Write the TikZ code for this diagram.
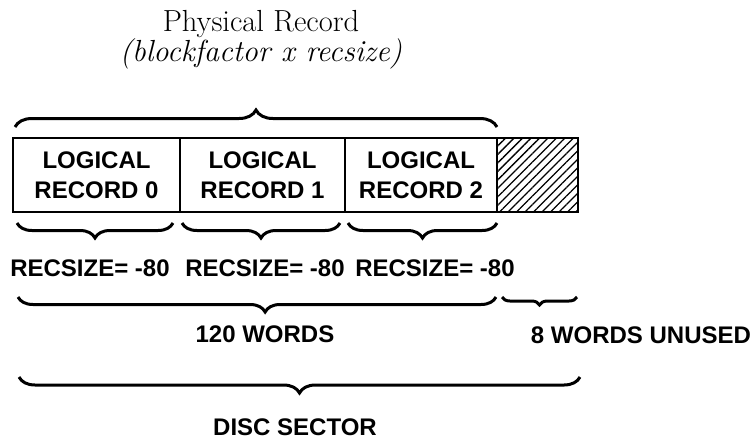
\documentclass[tikz,border=0pt]{standalone}
\usepackage{fontspec}
\usepackage{tikz}
\usetikzlibrary{positioning}
\usetikzlibrary{decorations.pathreplacing}
\usetikzlibrary{patterns.meta}
\newfontfamily\helvfont{Liberation Sans}

\begin{document}
\begin{tikzpicture}[x=1pt,y=-1pt,
    recbox/.style={draw,line width=1.8pt,outer sep=0pt,inner sep=0pt,minimum height=74pt,align=center,font=\helvfont\bfseries\fontsize{24}{30}\selectfont},
    brc/.style={decorate,decoration={brace,amplitude=#1},line width=3pt},
    lbl/.style={inner sep=1pt,font=\helvfont\bfseries\fontsize{24}{29}\selectfont}]
  \useasboundingbox (0,0) rectangle (754,440);
  % physical record
  \node (title) at (261,39.5) [align=center,font=\fontsize{30.5}{28}\selectfont] {Physical Record\\\textit{(blockfactor x recsize)}};
  \draw [brc=17pt] (15,127) -- (497,127);
  % logical records
  \node (rec0) at (13,138) [recbox,minimum width=167pt,anchor=north west] {LOGICAL\\RECORD 0};
  \node (rec1) [recbox,minimum width=165pt,right=0pt of rec0] {LOGICAL\\RECORD 1};
  \node (rec2) [recbox,minimum width=152pt,right=0pt of rec1] {LOGICAL\\RECORD 2};
  \node (unused) [recbox,minimum width=81pt,right=0pt of rec2,pattern={Lines[angle=45,distance=6pt,line width=1.3pt]}] {};
  % record sizes
  \draw [brc=15pt,decoration={raise=11pt}] ([xshift=-7pt]rec0.south east) -- ([xshift=4pt]rec0.south west);
  \draw [brc=15pt,decoration={raise=11pt}] ([xshift=-5pt]rec1.south east) -- ([xshift=2pt]rec1.south west);
  \draw [brc=15pt,decoration={raise=11pt}] (rec2.south east) -- ([xshift=3pt]rec2.south west);
  \node (size0) at (90,268.5) [lbl] {RECSIZE= -80};
  \node (size1) at (265,268.5) [lbl] {RECSIZE= -80};
  \node (size2) at (435,268.5) [lbl] {RECSIZE= -80};
  % words
  \draw [brc=15pt,decoration={aspect=0.483}] (496,297) -- (18,297);
  \node (words) at (265,334) [lbl] {120 WORDS};
  \draw [brc=8pt] (577,297) -- (502,297);
  \node (spare) at (641,335) [lbl] {8 WORDS UNUSED};
  % disc sector
  \draw [brc=16pt] (580,377) -- (19,377);
  \node (sector) at (295,427.5) [lbl] {DISC SECTOR};
\end{tikzpicture}
\end{document}
